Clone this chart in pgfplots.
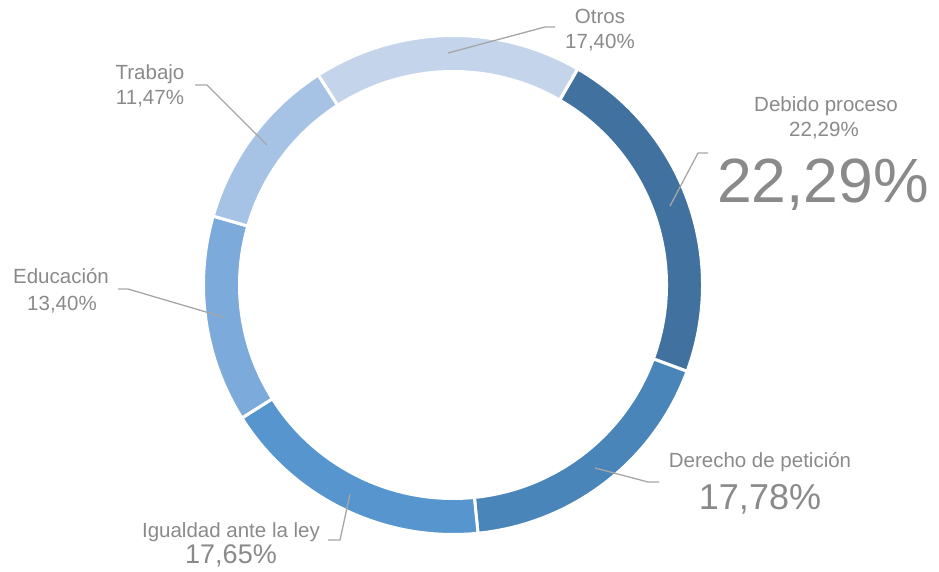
\documentclass[border=0pt]{standalone}
\usepackage{pgfplots}
\usepackage{pgfplotstable}
\pgfplotsset{compat=1.18}
\usepackage{fontspec}
\setmainfont{Liberation Sans}

\definecolor{slice0}{RGB}{65,114,159}
\definecolor{slice1}{RGB}{74,133,186}
\definecolor{slice2}{RGB}{86,149,206}
\definecolor{slice3}{RGB}{123,170,219}
\definecolor{slice4}{RGB}{166,195,230}
\definecolor{slice5}{RGB}{196,213,235}
\definecolor{txtgray}{RGB}{138,138,138}
\definecolor{leadgray}{RGB}{166,166,166}

% clockwise from the first slice (starts 30 deg right of 12 o'clock)
\pgfplotstableread{
label pct
Debido 22.29
Derecho 17.78
Igualdad 17.65
Educacion 13.40
Trabajo 11.47
Otros 17.40
}\donutdata

\newcommand{\sm}{\fontsize{20.5}{24}\selectfont}

\begin{document}
\begin{tikzpicture}
\begin{axis}[
    width=939pt, height=572pt,
    scale only axis,
    xmin=0, xmax=939, ymin=0, ymax=572,
    y dir=reverse,
    hide axis,
    clip=false,
]
\pgfmathsetmacro\ang{60}
\pgfplotsforeachungrouped \i in {0,...,5}{
  \pgfplotstablegetelem{\i}{pct}\of\donutdata
  \pgfmathsetmacro\angb{\ang-3.6*\pgfplotsretval}
  \edef\temp{\noexpand\filldraw[fill=slice\i, draw=white, line width=3pt]
    (axis cs:453,285) ++(\ang:249.5pt)
    arc[start angle=\ang, end angle=\angb, radius=249.5pt]
    -- ++(\angb:-36pt)
    arc[start angle=\angb, end angle=\ang, radius=213.5pt] -- cycle;}
  \temp
  \global\let\ang\angb
}

% leader lines
\draw[leadgray, line width=1.3pt] (axis cs:448,53) -- (axis cs:545,27) -- (axis cs:555,27);
\draw[leadgray, line width=1.3pt] (axis cs:670,206) -- (axis cs:698,153) -- (axis cs:708,153);
\draw[leadgray, line width=1.3pt] (axis cs:267,145) -- (axis cs:207,85) -- (axis cs:195,85);
\draw[leadgray, line width=1.3pt] (axis cs:223,317) -- (axis cs:128,289) -- (axis cs:118,289);
\draw[leadgray, line width=1.3pt] (axis cs:350,494) -- (axis cs:340,540) -- (axis cs:328,540);
\draw[leadgray, line width=1.3pt] (axis cs:595,468) -- (axis cs:648,482) -- (axis cs:659,482);

% labels
\begin{scope}[every node/.style={text=txtgray, anchor=base, inner sep=0pt}]
\node at (axis cs:600,24) {\sm Otros};
\node at (axis cs:600,49) {\sm 17,40\%};
\node at (axis cs:826,112) {\sm Debido proceso};
\node at (axis cs:824,137) {\sm 22,29\%};
\node at (axis cs:823,203) {\fontsize{62.5}{68}\selectfont 22,29\%};
\node at (axis cs:150,80) {\sm Trabajo};
\node at (axis cs:150,105) {\sm 11,47\%};
\node at (axis cs:61,283) {\sm Educación};
\node at (axis cs:62,310) {\sm 13,40\%};
\node at (axis cs:231,537) {\sm Igualdad ante la ley};
\node at (axis cs:231,563) {\fontsize{27}{30}\selectfont 17,65\%};
\node at (axis cs:760,467) {\sm Derecho de petición};
\node at (axis cs:760,509) {\fontsize{36}{40}\selectfont 17,78\%};
\end{scope}
\end{axis}
\pgfresetboundingbox
\useasboundingbox (0,0) rectangle (939pt,572pt);
\end{tikzpicture}
\end{document}
